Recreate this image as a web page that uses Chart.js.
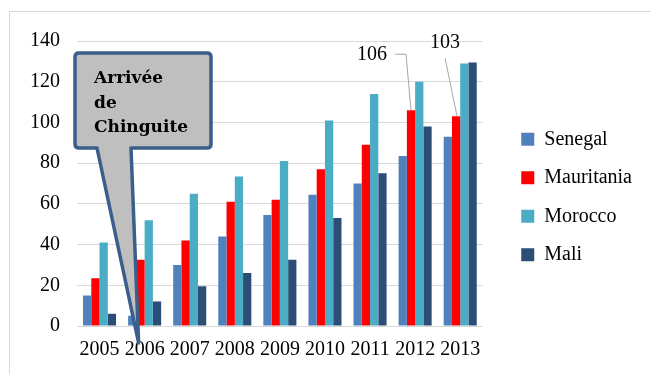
<!DOCTYPE html>
<html>
<head>
<meta charset="utf-8">
<script src="https://cdn.jsdelivr.net/npm/chart.js@4"></script>
<style>
  html, body { margin: 0; padding: 0; background: #fff; overflow: hidden; }
  #wrap { position: relative; width: 651px; height: 374px; }
  #frame { position: absolute; left: 9px; top: 11px; width: 700px; height: 400px; border: 1px solid #d9d9d9; box-sizing: border-box; }
  #chart { position: absolute; left: 0; top: 0; }
</style>
</head>
<body>
<div id="wrap">
  <div id="frame"></div>
  <canvas id="chart" width="651" height="374"></canvas>
</div>
<script>
// années et séries
var years = ["2005", "2006", "2007", "2008", "2009", "2010", "2011", "2012", "2013"];
var senegal = [15, 5, 30, 44, 54.5, 64.5, 70, 83.5, 93];
var mauritania = [23.5, 32.5, 42, 61, 62, 77, 89, 106, 103];
var morocco = [41, 52, 65, 73.5, 81, 101, 114, 120, 129];
var mali = [6, 12, 19.5, 26, 32.5, 53, 75, 98, 129.5];
var yTicks = [0, 20, 40, 60, 80, 100, 120, 140];
var calloutLines = ["Arrivée", "de", "Chinguite"];
var calloutYear = "2006";
var labelledYears = ["2012", "2013"];

var serif = "'Liberation Serif', 'Times New Roman', serif";

// bulle "Arrivée de Chinguite" + étiquettes de valeur pour la Mauritanie
var extras = {
    id: 'extras',
    afterDatasetsDraw: function(chart) {
        var ctx = chart.ctx;
        var area = chart.chartArea;
        var meta = chart.getDatasetMeta(1);

        // étiquettes 106 / 103 avec traits de rappel
        ctx.save();
        ctx.font = "20px " + serif;
        ctx.fillStyle = '#000';
        ctx.strokeStyle = '#a6a6a6';
        ctx.lineWidth = 1;
        labelledYears.forEach(function(yr, k) {
            var i = years.indexOf(yr);
            var bar = meta.data[i];
            var txt = String(mauritania[i]);
            ctx.beginPath();
            if (k === 0) {
                ctx.moveTo(bar.x - 16, bar.y - 56);
                ctx.lineTo(bar.x - 5, bar.y - 56);
                ctx.lineTo(bar.x, bar.y);
                ctx.stroke();
                ctx.textAlign = 'right';
                ctx.textBaseline = 'middle';
                ctx.fillText(txt, bar.x - 24, bar.y - 55);
            } else {
                ctx.moveTo(bar.x - 11, bar.y - 58);
                ctx.lineTo(bar.x + 1, bar.y);
                ctx.stroke();
                ctx.textAlign = 'center';
                ctx.textBaseline = 'middle';
                ctx.fillText(txt, bar.x - 11, bar.y - 74);
            }
        });
        ctx.restore();

        // bulle
        var tipX = chart.scales.x.getPixelForValue(years.indexOf(calloutYear)) - 6;
        var tipY = area.bottom + 17;
        var left = area.left - 2, right = area.left + 134;
        var top = area.top + 12, bottom = area.top + 107;
        var r = 4;
        var t1 = area.left + 20, t2 = area.left + 54;
        ctx.save();
        ctx.beginPath();
        ctx.moveTo(left + r, top);
        ctx.lineTo(right - r, top);
        ctx.quadraticCurveTo(right, top, right, top + r);
        ctx.lineTo(right, bottom - r);
        ctx.quadraticCurveTo(right, bottom, right - r, bottom);
        ctx.lineTo(t2, bottom);
        ctx.lineTo(tipX, tipY);
        ctx.lineTo(t1, bottom);
        ctx.lineTo(left + r, bottom);
        ctx.quadraticCurveTo(left, bottom, left, bottom - r);
        ctx.lineTo(left, top + r);
        ctx.quadraticCurveTo(left, top, left + r, top);
        ctx.closePath();
        ctx.fillStyle = '#bfbfbf';
        ctx.fill();
        ctx.lineWidth = 3.5;
        ctx.lineJoin = 'round';
        ctx.strokeStyle = '#3b5e8c';
        ctx.stroke();

        ctx.fillStyle = '#000';
        ctx.font = "bold 17px 'DejaVu Serif', serif";
        ctx.textAlign = 'left';
        ctx.textBaseline = 'alphabetic';
        calloutLines.forEach(function(line, i) {
            ctx.fillText(line, left + 19, top + 30 + i * 24.5);
        });
        ctx.restore();
    }
};

var ctx = document.getElementById('chart').getContext('2d');
new Chart(ctx, {
    type: 'bar',
    data: {
        labels: years,
        datasets: [
            { label: 'Senegal', data: senegal, backgroundColor: '#4f81bd' },
            { label: 'Mauritania', data: mauritania, backgroundColor: '#ff0000' },
            { label: 'Morocco', data: morocco, backgroundColor: '#4bacc6' },
            { label: 'Mali', data: mali, backgroundColor: '#2c4d75' }
        ]
    },
    options: {
        responsive: false,
        animation: false,
        events: [],
        layout: { padding: { left: 0, top: 41, right: 9, bottom: 0 } },
        datasets: {
            bar: { categoryPercentage: 0.733, barPercentage: 1.0 }
        },
        plugins: {
            tooltip: { enabled: false },
            legend: {
                position: 'right',
                fullSize: false,
                title: { display: true, text: '', font: { size: 10 }, padding: 7.5 },
                labels: {
                    color: '#000',
                    font: { family: serif, size: 20 },
                    boxWidth: 13,
                    boxHeight: 13,
                    padding: 18.5
                }
            }
        },
        scales: {
            x: {
                grid: { display: false, drawTicks: false },
                border: { display: false },
                ticks: {
                    color: '#000',
                    font: { family: serif, size: 20 },
                    padding: 12,
                    maxRotation: 0,
                    autoSkip: false
                }
            },
            y: {
                min: 0,
                max: 140,
                afterBuildTicks: function(scale) {
                    scale.ticks = yTicks.map(function(v) { return { value: v }; });
                },
                afterFit: function(scale) { scale.width = 77; },
                grid: { color: '#d9d9d9', lineWidth: 1, drawTicks: false },
                border: { display: false },
                ticks: {
                    color: '#000',
                    font: { family: serif, size: 20 },
                    padding: 17
                }
            },
            // espace vide entre la zone de tracé et la légende
            gap: {
                position: 'right',
                display: false,
                afterFit: function(scale) { scale.width = 20; }
            }
        }
    },
    plugins: [extras]
});
</script>
</body>
</html>
